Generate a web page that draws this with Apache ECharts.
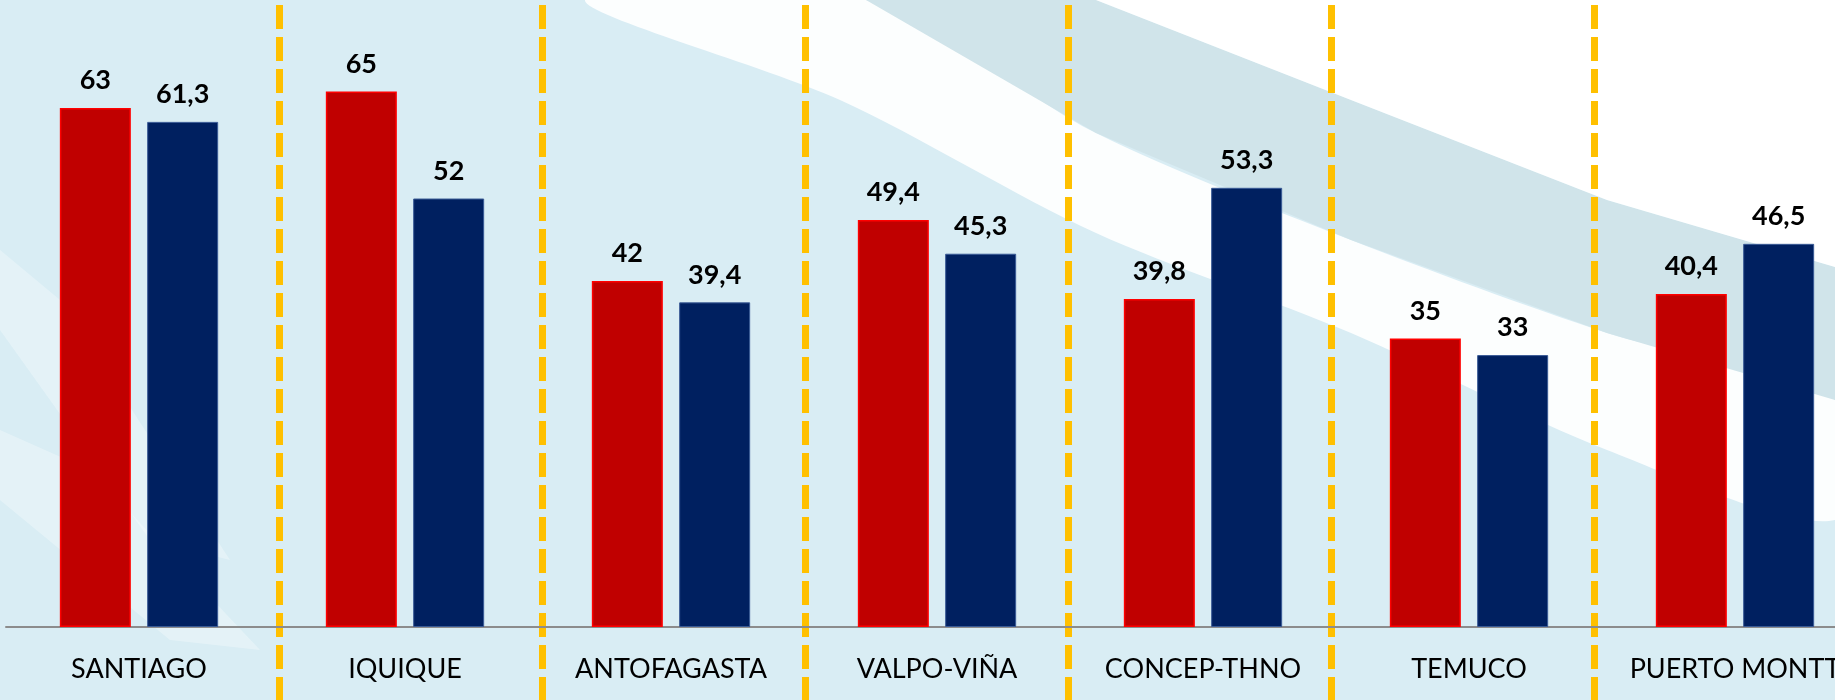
<!DOCTYPE html>
<html>
<head>
<meta charset="utf-8">
<script src="https://cdn.jsdelivr.net/npm/echarts@6/dist/echarts.min.js"></script>
<style>
  html, body { margin: 0; padding: 0; }
  #chart { width: 1835px; height: 700px; }
</style>
</head>
<body>
<div id="chart"></div>
<script>
// datos
const ciudades = ['SANTIAGO', 'IQUIQUE', 'ANTOFAGASTA', 'VALPO-VIÑA', 'CONCEP-THNO', 'TEMUCO', 'PUERTO MONTT']
const serieRoja = [63, 65, 42, 49.4, 39.8, 35, 40.4]
const serieAzul = [61.3, 52, 39.4, 45.3, 53.3, 33, 46.5]

const fuente = 'Lato, "Open Sans", sans-serif'

// etiqueta con coma decimal
const conComa = (p) => String(p.value).replace('.', ',')

const chart = echarts.init(document.getElementById('chart'))

const option = {
  backgroundColor: '#d9edf4',
  animation: false,
  // fondo decorativo (franjas diagonales)
  graphic: [
    { type: 'polygon', z: -10, silent: true,
      shape: { smooth: 0.3, points: [[585, 0], [866, 0], [1096, 133], [1351, 240], [1607, 333], [1835, 400], [1835, 520], [1607, 450], [1351, 333], [1096, 233], [840, 100]] },
      style: { fill: 'rgba(255,255,255,0.9)' } },
    { type: 'polygon', z: -10, silent: true,
      shape: { points: [[866, 0], [1096, 0], [1351, 100], [1607, 200], [1835, 267], [1835, 400], [1607, 333], [1351, 240], [1096, 133]] },
      style: { fill: '#d0e4ea' } },
    { type: 'polygon', z: -10, silent: true,
      shape: { points: [[1096, 0], [1835, 0], [1835, 267], [1607, 200], [1351, 100]] },
      style: { fill: '#ffffff' } },
    { type: 'polygon', z: -10, silent: true,
      shape: { points: [[0, 250], [60, 300], [230, 560], [150, 540], [0, 330]] },
      style: { fill: 'rgba(255,255,255,0.3)' } },
    { type: 'polygon', z: -10, silent: true,
      shape: { points: [[0, 430], [90, 470], [260, 650], [170, 640], [0, 500]] },
      style: { fill: 'rgba(255,255,255,0.3)' } }
  ],
  grid: [
    { left: 6, width: 1862, top: 9, bottom: 73, outerBoundsMode: 'none' },
    // grid solo para las lineas separadoras
    { left: 16, width: 1841, top: 5, bottom: 0, outerBoundsMode: 'none' }
  ],
  xAxis: [
    {
      type: 'category',
      data: ciudades,
      gridIndex: 0,
      axisLine: { lineStyle: { color: '#8c8c8c', width: 2 } },
      axisTick: { show: false },
      axisLabel: {
        interval: 0,
        margin: 29,
        fontFamily: fuente,
        fontSize: 27,
        color: '#000'
      },
      splitLine: { show: false }
    },
    {
      type: 'category',
      data: ciudades,
      gridIndex: 1,
      axisLine: { show: false },
      axisTick: { show: false },
      axisLabel: { show: false },
      splitLine: {
        show: true,
        showMinLine: false,
        lineStyle: { color: '#ffc000', width: 7, type: [24, 8] }
      }
    }
  ],
  yAxis: [
    { type: 'value', gridIndex: 0, min: 0, max: 75, show: false },
    { type: 'value', gridIndex: 1, show: false }
  ],
  series: [
    {
      name: 'Serie 1',
      type: 'bar',
      data: serieRoja,
      barWidth: 71,
      barGap: '23%',
      itemStyle: { color: '#c00000', borderColor: '#ff0000', borderWidth: 1.5 },
      label: {
        show: true,
        position: 'top',
        distance: 14,
        formatter: conComa,
        fontFamily: fuente,
        fontWeight: 'bold',
        fontSize: 27,
        color: '#000'
      }
    },
    {
      name: 'Serie 2',
      type: 'bar',
      data: serieAzul,
      barWidth: 71,
      itemStyle: { color: '#002060', borderColor: '#3a5b96', borderWidth: 1 },
      label: {
        show: true,
        position: 'top',
        distance: 14,
        formatter: conComa,
        fontFamily: fuente,
        fontWeight: 'bold',
        fontSize: 27,
        color: '#000'
      }
    }
  ]
}

chart.setOption(option)
</script>
</body>
</html>
